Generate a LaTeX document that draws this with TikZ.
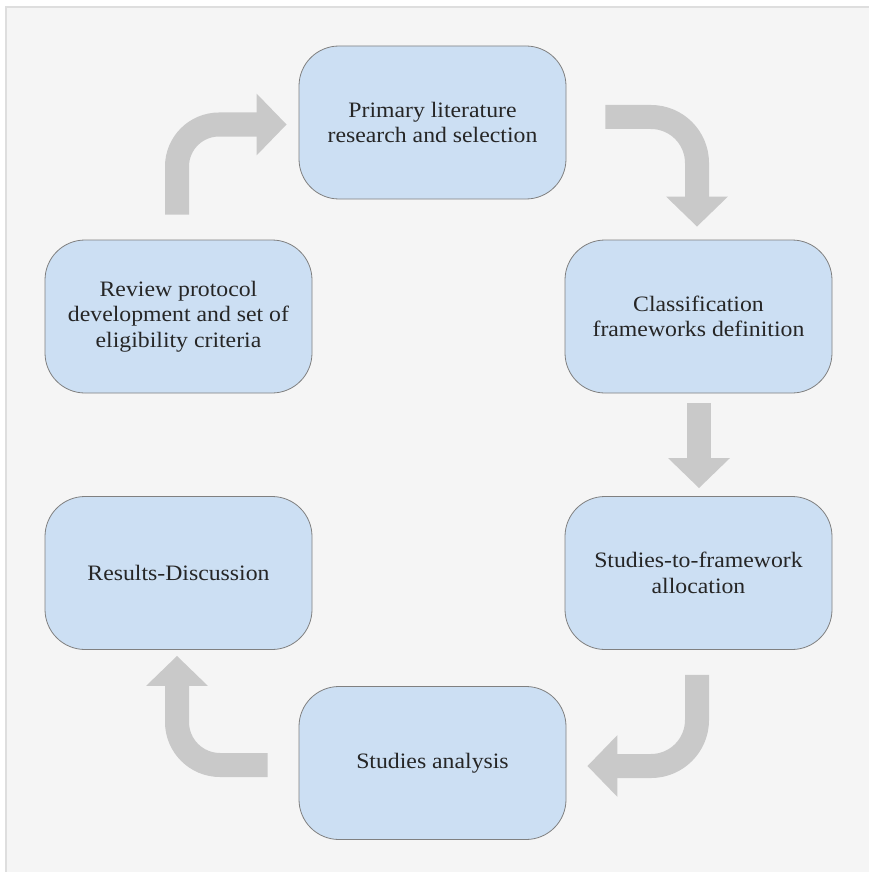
\documentclass[tikz,border=0pt]{standalone}
\usepackage{fontspec}
\setmainfont{Liberation Serif}[FakeStretch=1.08]
\usetikzlibrary{arrows.meta,calc}

\definecolor{panelbg}{HTML}{F5F5F5}
\definecolor{panelrim}{HTML}{DEDEDE}
\definecolor{stepfill}{HTML}{CCDFF3}
\definecolor{steprim}{HTML}{808080}
\definecolor{flowgray}{HTML}{C9C9C9}
\definecolor{inktext}{HTML}{262626}

\tikzset{
  stepbox/.style={draw=steprim, line width=0.8pt, fill=stepfill,
    rounded corners=40pt, minimum width=267pt, minimum height=153pt,
    inner sep=0pt, align=center, text=inktext,
    font=\fontsize{22}{25.5}\selectfont},
  flow/.style={draw=flowgray, line width=24pt,
    -{Triangle[width=60pt,length=30pt]}},
}

\begin{document}
\begin{tikzpicture}[x=1pt, y=-1pt]
  \useasboundingbox (0,0) rectangle (868,872);
  \fill[white] (0,0) rectangle (868,872);
  \draw[panelrim, fill=panelbg, line width=1.5pt] (6,7) rectangle (880,884);

  % process steps
  \node[stepbox] (prim)  at (432.5,122.5) {Primary literature\\research and selection};
  \node[stepbox] (class) at (698.5,316.5) {Classification\\frameworks definition};
  \node[stepbox] (alloc) at (698.5,573)   {Studies-to-framework\\allocation};
  \node[stepbox] (anal)  at (432.5,763)   {Studies analysis};
  \node[stepbox] (res)   at (178.5,573)   {Results-Discussion};
  \node[stepbox] (rev)   at (178.5,316.5) {Review protocol\\development and set of\\eligibility criteria};

  % connector end points
  \coordinate (s1) at ($(rev.north)+(-1.5,-25)$);
  \coordinate (t1) at ($(prim.west)+(-12,2)$);
  \coordinate (s2) at ($(prim.east)+(39,-5.5)$);
  \coordinate (t2) at ($(class.north)+(-1.5,-13)$);
  \coordinate (s3) at ($(class.south)+(0.5,10)$);
  \coordinate (t3) at ($(alloc.north)+(0.5,-8)$);
  \coordinate (s4) at ($(alloc.south)+(-1.5,25)$);
  \coordinate (t4) at ($(anal.east)+(21,3)$);
  \coordinate (s5) at ($(anal.west)+(-31,2)$);
  \coordinate (t5) at ($(res.south)+(-1.5,6)$);

  % flow arrows
  \draw[flow, rounded corners=42pt] (s1) |- (t1);
  \draw[flow, rounded corners=46pt] (s2) -| (t2);
  \draw[flow] (s3) -- (t3);
  \draw[flow, rounded corners=46pt] (s4) |- (t4);
  \draw[flow, rounded corners=43pt] (s5) -| (t5);
\end{tikzpicture}
\end{document}
